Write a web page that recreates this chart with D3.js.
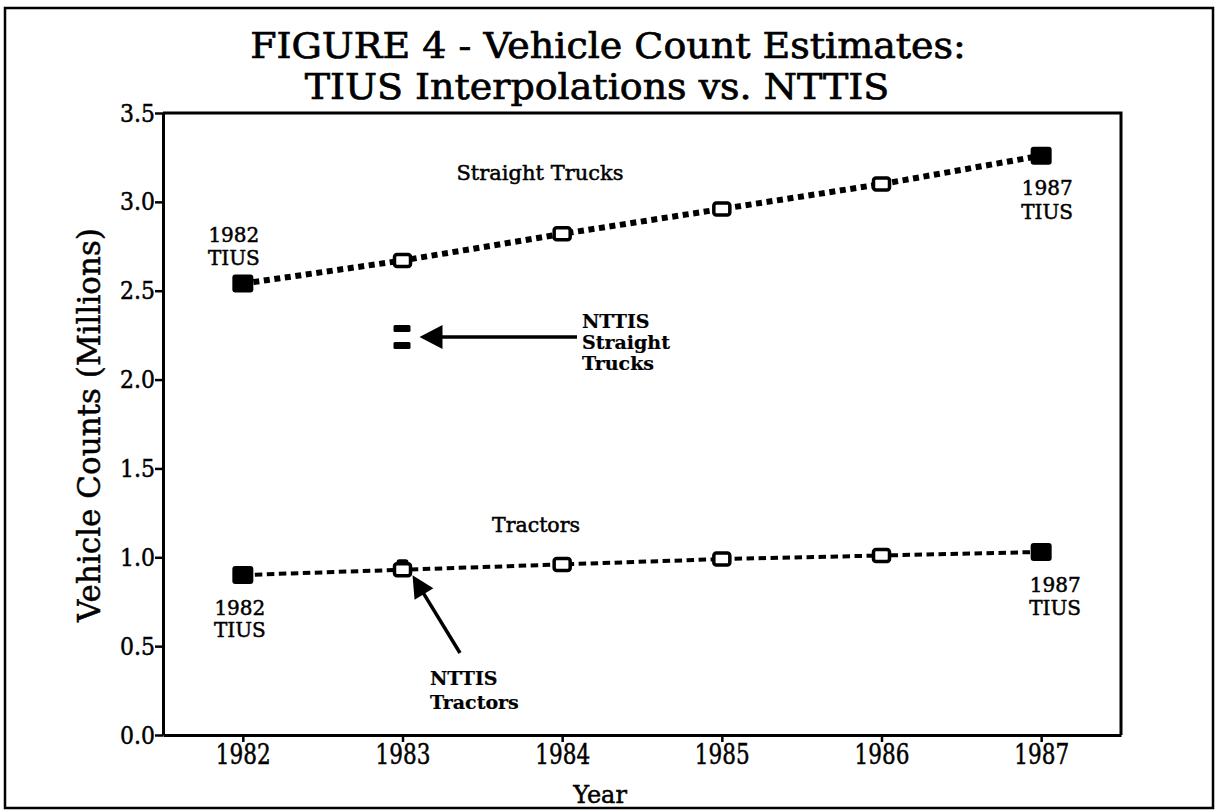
<!DOCTYPE html>
<html>
<head>
<meta charset="utf-8">
<script src="https://cdn.jsdelivr.net/npm/d3@7"></script>
<style>
  html, body { margin: 0; padding: 0; background: #fff; }
  svg { display: block; }
  text { font-family: "DejaVu Serif", "Liberation Serif", serif; fill: #000; stroke: #000; stroke-width: 0.5px; }
</style>
</head>
<body>
<svg id="chart" width="1215" height="810"></svg>
<script>
// ---- data ----
const years = [1982, 1983, 1984, 1985, 1986, 1987];
const straightTrucks = [2.54, 2.67, 2.82, 2.96, 3.10, 3.26];
const tractors = [0.90, 0.93, 0.96, 0.99, 1.01, 1.03];
const nttisYear = 1983;
const nttisStraightTrucks = 2.24;
const nttisTractors = 0.955;
const yTicks = [0.0, 0.5, 1.0, 1.5, 2.0, 2.5, 3.0, 3.5];
const titleLines = ["FIGURE 4 - Vehicle Count Estimates:", "TIUS Interpolations vs. NTTIS"];
const yLabel = "Vehicle Counts (Millions)";
const xLabel = "Year";

// ---- layout ----
const plot = { left: 163, right: 1121, top: 113, bottom: 735 };
const svg = d3.select("#chart");

// outer frame
svg.append("rect").attr("x", 5).attr("y", 8).attr("width", 1208).attr("height", 800)
  .attr("fill", "none").attr("stroke", "#000").attr("stroke-width", 2.5);

const x = d3.scaleLinear().domain([1981.5, 1987.5]).range([plot.left, plot.right]);
const y = d3.scaleLinear().domain([0, 3.5]).range([plot.bottom, plot.top]);

// title
[[608, 58, titleLines[0]], [597, 99, titleLines[1]]].forEach(([cx, by, s]) => {
  svg.append("text").attr("transform", `translate(${cx},${by}) scale(1.055,1)`)
    .attr("text-anchor", "middle").attr("font-size", 36)
    .style("stroke-width", "0.7px").text(s);
});

// plot box (top & right)
svg.append("path")
  .attr("d", `M${plot.left},${plot.top}H${plot.right}V${plot.bottom}`)
  .attr("fill", "none").attr("stroke", "#000").attr("stroke-width", 3);

// axes
const yAxis = d3.axisLeft(y).tickValues(yTicks).tickFormat(d3.format(".1f"))
  .tickSize(8).tickSizeOuter(0).tickPadding(1);
const gy = svg.append("g").attr("transform", `translate(${plot.left},0)`).call(yAxis);
gy.select(".domain").attr("stroke-width", 3);
gy.selectAll(".tick line").attr("stroke-width", 2.5);
gy.selectAll(".tick text").attr("font-size", 25).attr("font-family", "DejaVu Serif")
  .attr("fill", "#000").attr("transform", "scale(0.88,1)");

const xAxis = d3.axisBottom(x).tickValues(years).tickFormat(d3.format("d"))
  .tickSize(7).tickSizeOuter(0).tickPadding(3);
const gx = svg.append("g").attr("transform", `translate(0,${plot.bottom})`).call(xAxis);
gx.select(".domain").attr("stroke-width", 3);
gx.selectAll(".tick line").attr("stroke-width", 2.5);
gx.selectAll(".tick text").attr("font-size", 27).attr("font-family", "DejaVu Serif")
  .attr("fill", "#000").attr("transform", "scale(0.8,1)");

// axis titles
svg.append("text").attr("transform", `translate(100,${(plot.top + plot.bottom) / 2 + 1}) rotate(-90)`)
  .attr("text-anchor", "middle").attr("font-size", 31).text(yLabel);
svg.append("text").attr("x", 600).attr("y", 803).attr("text-anchor", "middle")
  .attr("font-size", 24).text(xLabel);

// ---- series ----
const line = d3.line().x(d => x(d.year)).y(d => y(d.v));
const stData = years.map((yr, i) => ({ year: yr, v: straightTrucks[i] }));
const trData = years.map((yr, i) => ({ year: yr, v: tractors[i] }));

svg.append("path").datum(stData).attr("d", line).attr("fill", "none")
  .attr("stroke", "#000").attr("stroke-width", 6).attr("stroke-dasharray", "6,4.6");
svg.append("path").datum(trData).attr("d", line).attr("fill", "none")
  .attr("stroke", "#000").attr("stroke-width", 4).attr("stroke-dasharray", "7.5,4.5");

// NTTIS tractors marker (partly hidden behind the interpolation marker)
svg.append("rect").attr("x", x(nttisYear) - 6).attr("y", y(nttisTractors) - 6)
  .attr("width", 12).attr("height", 10).attr("rx", 3).attr("fill", "#000");

function drawMarkers(data) {
  const last = data.length - 1;
  const g = svg.append("g");
  g.selectAll("rect.filled").data(data.filter((d, i) => i === 0 || i === last)).join("rect")
    .attr("class", "filled")
    .attr("x", d => x(d.year) - 10.5).attr("y", d => y(d.v) - 9)
    .attr("width", 21).attr("height", 18).attr("rx", 3).attr("fill", "#000");
  g.selectAll("rect.hollow").data(data.filter((d, i) => i !== 0 && i !== last)).join("rect")
    .attr("class", "hollow")
    .attr("x", d => x(d.year) - 8).attr("y", d => y(d.v) - 6)
    .attr("width", 16).attr("height", 12).attr("rx", 2.5)
    .attr("fill", "#fff").attr("stroke", "#000").attr("stroke-width", 3.5);
}
drawMarkers(stData);
drawMarkers(trData);

// NTTIS straight trucks marker ("=" shape)
[-8.5, 8.5].forEach(off => {
  svg.append("rect").attr("x", x(nttisYear) - 9).attr("y", y(nttisStraightTrucks) + off - 3.5)
    .attr("width", 17).attr("height", 7).attr("rx", 1.5).attr("fill", "#000");
});

// ---- annotations ----
function multiText(xp, yp, lines, opts) {
  const t = svg.append("text").attr("x", xp).attr("y", yp)
    .attr("text-anchor", opts.anchor || "middle")
    .attr("font-size", opts.size || 20)
    .attr("font-weight", opts.weight || "normal");
  if (opts.weight === "bold") t.style("stroke-width", "0.2px");
  lines.forEach((s, i) => {
    t.append("tspan").attr("x", xp).attr("dy", i === 0 ? 0 : opts.lh || 23).text(s);
  });
}
multiText(x(1982) - 9, y(straightTrucks[0]) - 42, ["1982", "TIUS"], { size: 20, lh: 23 });
multiText(x(1987) + 6, y(straightTrucks[5]) + 39, ["1987", "TIUS"], { size: 20, lh: 24 });
multiText(x(1982) - 3, y(tractors[0]) + 40, ["1982", "TIUS"], { size: 20, lh: 22 });
multiText(x(1987) + 14, y(tractors[5]) + 40, ["1987", "TIUS"], { size: 20, lh: 23 });
multiText(540, 180, ["Straight Trucks"], { size: 21 });
multiText(536, 532, ["Tractors"], { size: 20.5 });
multiText(582, 328, ["NTTIS", "Straight", "Trucks"], { size: 19, weight: "bold", anchor: "start", lh: 21 });
multiText(430, 685, ["NTTIS", "Tractors"], { size: 19, weight: "bold", anchor: "start", lh: 24 });

function arrow(x1, y1, x2, y2, headLen, headHalf, sw) {
  const dx = x2 - x1, dy = y2 - y1, L = Math.hypot(dx, dy);
  const ux = dx / L, uy = dy / L;
  const bx = x2 - ux * headLen, by = y2 - uy * headLen;
  svg.append("line").attr("x1", x1).attr("y1", y1).attr("x2", bx + ux * 2).attr("y2", by + uy * 2)
    .attr("stroke", "#000").attr("stroke-width", sw);
  svg.append("path")
    .attr("d", `M${x2},${y2}L${bx - uy * headHalf},${by + ux * headHalf}L${bx + uy * headHalf},${by - ux * headHalf}Z`)
    .attr("fill", "#000");
}
arrow(577, y(nttisStraightTrucks), x(nttisYear) + 17, y(nttisStraightTrucks), 23, 12, 3.5);
arrow(460, 653, x(nttisYear) + 10, y(nttisTractors) - 20 + 30, 22, 11, 3.5);
</script>
</body>
</html>
